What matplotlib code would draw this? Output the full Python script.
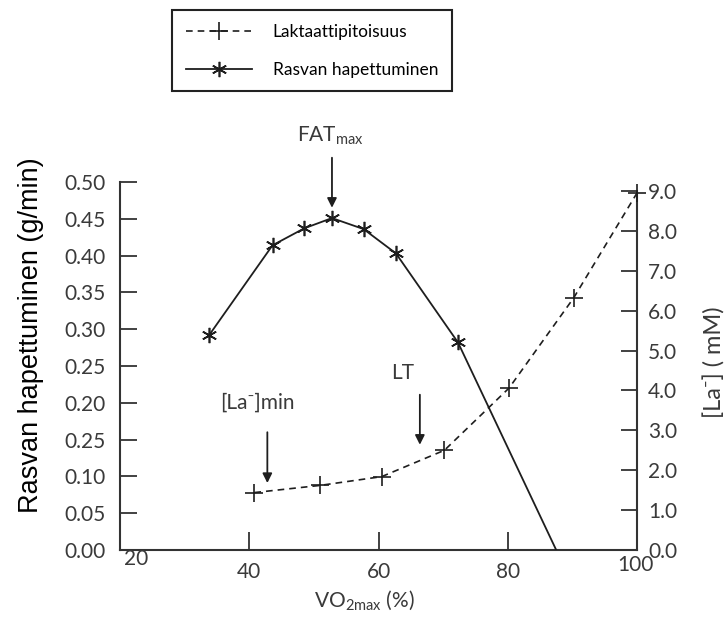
import numpy as np
import matplotlib
matplotlib.use("Agg")
import matplotlib.pyplot as plt
from matplotlib.lines import Line2D

# fat oxidation (g/min) vs. exercise intensity (% VO2max)
fat_x = [33.8, 43.6, 48.5, 52.8, 57.7, 62.7, 72.3, 87.5]
fat_y = [0.292, 0.414, 0.437, 0.451, 0.436, 0.403, 0.282, 0.0]
fat_marked = 7  # last point is where the curve meets the axis, no marker

# blood lactate (mM) vs. exercise intensity
lac_x = [40.8, 51.0, 60.5, 70.2, 80.2, 90.2, 100.0]
lac_y = [1.44, 1.62, 1.84, 2.50, 4.06, 6.32, 8.95]

left_ticks = [0.00, 0.05, 0.10, 0.15, 0.20, 0.25, 0.30, 0.35, 0.40, 0.45, 0.50]
left_labels = ['0.00', '0.05', '0.10', '0.25', '0.20', '0.25', '0.30', '0.35', '0.40', '0.45', '0.50']
right_ticks = [0, 1, 2, 3, 4, 5, 6, 7, 8, 9]
right_labels = ['0.0', '1.0', '2.0', '3.0', '4.0', '5.0', '6.0', '7.0', '8.0', '9.0']
x_ticks = [40, 60, 80]

plt.rcParams['font.family'] = ['Lato', 'DejaVu Sans']
plt.rcParams['mathtext.fontset'] = 'custom'
plt.rcParams['mathtext.rm'] = 'Lato'
plt.rcParams['mathtext.it'] = 'Lato:italic'

TXT = '#3a3a3a'
INK = '#1e1e1e'

fig = plt.figure(figsize=(7.26, 6.17), dpi=100)
ax = fig.add_axes([120 / 726, 1 - 550 / 617, 517 / 726, 368 / 617])
ax2 = ax.twinx()

ax.set_xlim(20, 100)
ax.set_ylim(0, 0.5)
ax2.set_ylim(0, 9 * 368 / 359)

# fat oxidation curve with asterisk markers
fat_line, = ax.plot(fat_x, fat_y, color=INK, lw=1.3, zorder=3)
fat_pts, = ax.plot(fat_x[:fat_marked], fat_y[:fat_marked], ls='none',
                   marker=(6, 2, 0), ms=11, mew=1.2, color=INK, zorder=4)

# lactate curve, dashed with plus markers
lac_line, = ax2.plot(lac_x, lac_y, color=INK, lw=1.2, ls=(0, (4, 3)),
                     marker='+', ms=13, mew=1.2, clip_on=False, zorder=3)

for a in (ax, ax2):
    a.spines['top'].set_visible(False)
ax2.spines['left'].set_visible(False)
ax2.spines['bottom'].set_visible(False)
ax.spines['right'].set_visible(False)
ax2.spines['right'].set_bounds(0, 9)
for sp in [ax.spines['left'], ax.spines['bottom'], ax2.spines['right']]:
    sp.set_color('#333333')
    sp.set_linewidth(1.5)

ax.set_yticks(left_ticks)
ax.set_yticklabels(left_labels)
ax.set_xticks(x_ticks)
ax2.set_yticks(right_ticks)
ax2.set_yticklabels(right_labels)

ax.tick_params(axis='y', direction='in', length=12.5, width=1.3, pad=10.5,
               labelsize=15, labelcolor=TXT, color='#333333')
ax.tick_params(axis='x', direction='in', length=13, width=1.3, pad=8.5,
               labelsize=15, labelcolor=TXT, color='#333333')
ax2.tick_params(axis='y', direction='in', length=11.5, width=1.3, pad=8,
                labelsize=15, labelcolor=TXT, color='#333333')

# end labels of the x axis sit off the regular row
ax.text(22.5, -0.012, '20', ha='center', va='center', fontsize=15, color=TXT,
        clip_on=False)
ax.text(99.7, -0.021, '100', ha='center', va='center', fontsize=15, color=TXT,
        clip_on=False)

fig.text(364 / 726, 1 - 600 / 617, r'VO$_{\mathrm{2max}}$ (%)', ha='center',
         va='center', fontsize=15, color=TXT)
fig.text(31 / 726, 1 - 335 / 617, 'Rasvan hapettuminen (g/min)', rotation=90,
         ha='center', va='center', fontsize=19.5, family='Liberation Sans',
         color='black')
fig.text(715 / 726, 1 - 362 / 617, '[La⁻] ( mM)', rotation=90, ha='center',
         va='center', fontsize=17, color=TXT)

arrow = dict(arrowstyle='-|>', color=INK, lw=1.3, mutation_scale=14,
             shrinkA=0, shrinkB=0)
ax.annotate('', xy=(52.8, 0.465), xytext=(52.8, 0.533), arrowprops=arrow,
            annotation_clip=False)
ax.text(52.5, 0.563, r'FAT$_{\mathrm{max}}$', ha='center', va='center',
        fontsize=15, color=TXT, clip_on=False)
ax.annotate('', xy=(42.8, 0.091), xytext=(42.8, 0.160), arrowprops=arrow)
ax.text(41.3, 0.200, '[La⁻]min', ha='center', va='center', fontsize=15,
        color=TXT)
ax.annotate('', xy=(66.4, 0.143), xytext=(66.4, 0.211), arrowprops=arrow)
ax.text(63.7, 0.240, 'LT', ha='center', va='center', fontsize=15, color=TXT)

h_lac = Line2D([], [], color=INK, lw=1.2, ls=(0, (4, 3)), marker='+', ms=13,
               mew=1.2)
h_fat = Line2D([], [], color=INK, lw=1.3, marker=(6, 2, 0), ms=11, mew=1.2)
leg = fig.legend([h_lac, h_fat], ['Laktaattipitoisuus', 'Rasvan hapettuminen'],
                 loc='upper left', bbox_to_anchor=(172 / 726, 1 - 10 / 617),
                 borderaxespad=0, fancybox=False, framealpha=1,
                 edgecolor='#222222', fontsize=12.5, handlelength=3.8,
                 handletextpad=1.2, labelspacing=1.25, borderpad=0.8)
leg.get_frame().set_linewidth(1.5)

fig.savefig('out.png', dpi=100)
